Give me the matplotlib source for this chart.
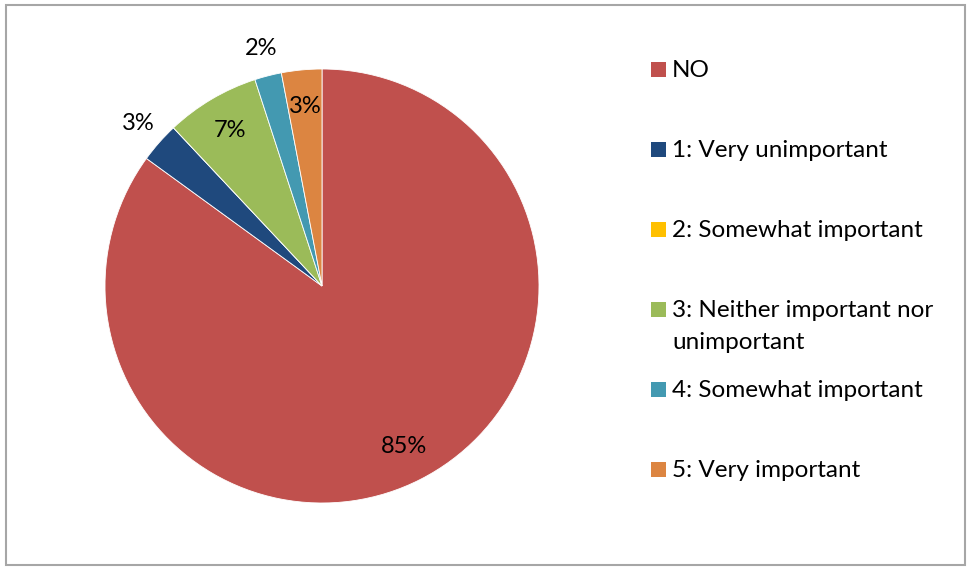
import numpy as np
import matplotlib
matplotlib.use("Agg")
import matplotlib.pyplot as plt
from matplotlib.patches import Rectangle

# Survey answers (share of respondents, %)
labels = ["NO", "1: Very unimportant", "2: Somewhat important",
          "3: Neither important nor\nunimportant", "4: Somewhat important",
          "5: Very important"]
values = [85, 3, 0, 7, 2, 3]
colors = ["#C0504D", "#1F497D", "#FFC000", "#9BBB59", "#4399B1", "#DC8541"]
# small slices whose label sits outside the pie
outside = [False, True, False, False, True, False]

plt.rcParams['font.family'] = ['Lato', 'DejaVu Sans']

fig = plt.figure(figsize=(9.67, 5.67), dpi=100)
ax = fig.add_axes([105 / 967, 64 / 567, 434 / 967, 434 / 567])

wedges, _ = ax.pie(values, colors=colors, startangle=90, counterclock=False,
                   radius=1.0, wedgeprops=dict(edgecolor="white", linewidth=0.6))
ax.set_xlim(-1, 1)
ax.set_ylim(-1, 1)
ax.set_aspect("equal")
ax.axis("off")

# percentage labels
for w, v, out in zip(wedges, values, outside):
    if v == 0:
        continue
    ang = np.deg2rad((w.theta1 + w.theta2) / 2)
    r = 1.13 if out else 0.83
    ax.text(r * np.cos(ang), r * np.sin(ang), f"{v}%", ha="center", va="center",
            fontsize=17, color="black", clip_on=False)

# legend drawn by hand to keep even spacing
ys = [69.5, 149.5, 229.5, 309.5, 389.5, 469.5]
for lab, col, y in zip(labels, colors, ys):
    fy = 1 - y / 567
    fig.patches.append(Rectangle((651 / 967, fy - 7.5 / 567), 15 / 967, 15 / 567,
                                 transform=fig.transFigure, facecolor=col,
                                 edgecolor="none"))
    # one text per line so the first line stays level with the square
    for i, line in enumerate(lab.split("\n")):
        fig.text(672 / 967, fy - (7.5 + 32 * i) / 567, line, ha="left",
                 va="baseline", fontsize=17.5)

# chart frame
fig.patches.append(Rectangle((6 / 967, 2 / 567), 959 / 967, 560 / 567,
                             transform=fig.transFigure, fill=False,
                             edgecolor="#A6A6A6", linewidth=1.5))

fig.savefig("out.png", dpi=100)
